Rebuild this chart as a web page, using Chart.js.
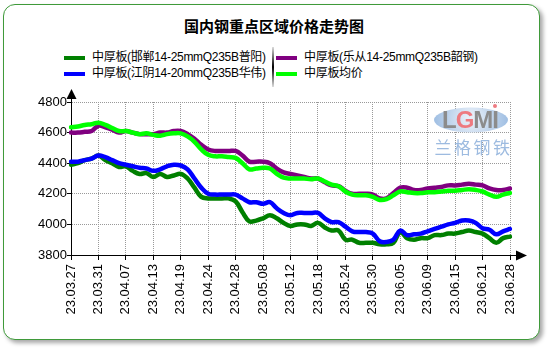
<!DOCTYPE html>
<html lang="zh">
<head>
<meta charset="UTF-8">
<title>国内钢重点区域价格走势图</title>
<script src="https://cdn.jsdelivr.net/npm/chart.js"></script>
<style>
  body { margin: 0; background: #fff; }
  #box { position: relative; width: 550px; height: 350px; font-family: "Liberation Sans", "Noto Sans CJK SC", sans-serif; }
  #frame { position: absolute; left: 3px; top: 4px; width: 535px; height: 334px; border: 1.5px solid #3f9a3a; border-radius: 12px; box-shadow: 3px 3px 4px rgba(0,0,0,0.35); background: #fff; }
  #title { position: absolute; left: 0; top: 15px; width: 548px; text-align: center; font: bold 15px "Noto Sans CJK SC", sans-serif; color: #000; }
  .lg { position: absolute; font-size: 12px; height: 16px; line-height: 16px; white-space: nowrap; letter-spacing: -0.3px; color: #000; }
  .lg i { display: inline-block; width: 21px; height: 4px; vertical-align: middle; margin-right: 7px; }
  #sep { position: absolute; left: 272px; top: 47px; width: 2px; height: 40px; background: linear-gradient(#ddd, #000 50%, #ddd); }
  canvas { position: absolute; left: 0; top: 0; }
</style>
</head>
<body>
<div id="box">
  <div id="frame"></div>
  <div id="title">国内钢重点区域价格走势图</div>
  <div id="legend"></div>
  <div id="sep"></div>
  <canvas id="chart" width="550" height="350"></canvas>
</div>

<script>
// trading days 23.03.27 - 23.06.28
const dates = [
  '23.03.27', '23.03.28', '23.03.29', '23.03.30', '23.03.31',
  '23.04.03', '23.04.04', '23.04.06', '23.04.07',
  '23.04.10', '23.04.11', '23.04.12', '23.04.13',
  '23.04.14', '23.04.17', '23.04.18', '23.04.19',
  '23.04.20', '23.04.21', '23.04.23', '23.04.24',
  '23.04.25', '23.04.26', '23.04.27', '23.04.28',
  '23.05.04', '23.05.05', '23.05.06', '23.05.08',
  '23.05.09', '23.05.10', '23.05.11', '23.05.12',
  '23.05.15', '23.05.16', '23.05.17', '23.05.18',
  '23.05.19', '23.05.22', '23.05.23', '23.05.24',
  '23.05.25', '23.05.26', '23.05.29', '23.05.30',
  '23.05.31', '23.06.01', '23.06.02', '23.06.05',
  '23.06.06', '23.06.07', '23.06.08', '23.06.09',
  '23.06.12', '23.06.13', '23.06.14', '23.06.15',
  '23.06.16', '23.06.19', '23.06.20', '23.06.21',
  '23.06.25', '23.06.26', '23.06.27', '23.06.28'
];

const handan = [
  4390, 4400, 4420, 4430, 4450, 4420, 4400, 4375, 4380, 4350, 4330, 4335, 4310,
  4330, 4310, 4320, 4330, 4300, 4240, 4180, 4170, 4170, 4170, 4170, 4150, 4080,
  4020, 4025, 4040, 4060, 4040, 4010, 3990, 4000, 4000, 3990, 4010, 3980, 3960,
  3960, 3900, 3900, 3880, 3880, 3880, 3870, 3870, 3880, 3950, 3910, 3900, 3910,
  3910, 3930, 3930, 3940, 3940, 3950, 3960, 3950, 3940, 3910, 3880, 3910, 3920
];
const jiangyin = [
  4410, 4410, 4420, 4430, 4450, 4440, 4420, 4400, 4390, 4380, 4370, 4365, 4350,
  4360, 4380, 4390, 4385, 4360, 4300, 4240, 4200, 4195, 4195, 4195, 4195, 4170,
  4145, 4145, 4135, 4145, 4105, 4075, 4060, 4075, 4075, 4075, 4075, 4040, 4015,
  4015, 3985, 3955, 3950, 3950, 3940, 3890, 3885, 3900, 3960, 3930, 3935, 3940,
  3955, 3970, 3985, 4000, 4010, 4025, 4025, 4010, 3975, 3965, 3935, 3955, 3970
];
const lecong = [
  4600, 4600, 4605, 4610, 4645, 4635, 4620, 4600, 4610, 4600, 4590, 4590, 4590,
  4600, 4600, 4610, 4610, 4590, 4560, 4520, 4490, 4480, 4480, 4480, 4480, 4450,
  4410, 4410, 4410, 4400, 4365, 4340, 4330, 4320, 4310, 4300, 4300, 4275, 4255,
  4250, 4220, 4200, 4200, 4200, 4195, 4170, 4170, 4205, 4240, 4240, 4225, 4225,
  4235, 4240, 4245, 4255, 4255, 4260, 4265, 4260, 4255, 4235, 4225, 4225, 4235
];
const average = [
  4635, 4640, 4650, 4655, 4665, 4650, 4630, 4610, 4610, 4600, 4590, 4595, 4585,
  4580, 4590, 4595, 4595, 4575, 4540, 4490, 4455, 4445, 4445, 4440, 4435, 4400,
  4360, 4365, 4370, 4365, 4330, 4305, 4300, 4300, 4300, 4295, 4300, 4280, 4260,
  4250, 4215, 4195, 4190, 4190, 4180, 4160, 4165, 4190, 4215, 4210, 4205, 4205,
  4210, 4210, 4215, 4220, 4220, 4225, 4230, 4225, 4215, 4195, 4180, 4195, 4205
];

const seriesNames = [
  '中厚板(邯郸14-25mmQ235B普阳)',
  '中厚板(江阴14-20mmQ235B华伟)',
  '中厚板(乐从14-25mmQ235B韶钢)',
  '中厚板均价'
];
const seriesColors = ['#008000', '#0000ff', '#800080', '#00ff00'];
const seriesData = [handan, jiangyin, lecong, average];
const drawOrder = [4, 2, 3, 1];

const yTicks = [3800, 4000, 4200, 4400, 4600, 4800];

// legend: two columns, two rows
const legendSpots = [[64, 49], [64, 65], [276, 49], [276, 65]];
const legendBox = document.getElementById('legend');
seriesNames.forEach((name, i) => {
  const d = document.createElement('div');
  d.className = 'lg';
  d.style.left = legendSpots[i][0] + 'px';
  d.style.top = legendSpots[i][1] + 'px';
  d.innerHTML = '<i style="background:' + seriesColors[i] + '"></i>' + name;
  legendBox.appendChild(d);
});

// arrow heads on the two axes
const axisArrows = {
  id: 'axisArrows',
  afterDraw(chart) {
    const { ctx, chartArea: a } = chart;
    const x0 = Math.round(a.left) + 0.5;
    const y0 = Math.round(a.bottom) + 0.5;
    ctx.save();
    ctx.strokeStyle = '#000';
    ctx.fillStyle = '#000';
    ctx.lineWidth = 1;
    ctx.beginPath();
    ctx.moveTo(x0, a.top); ctx.lineTo(x0, a.top - 4);
    ctx.moveTo(a.right, y0); ctx.lineTo(a.right + 8, y0);
    ctx.stroke();
    ctx.beginPath();
    ctx.moveTo(x0, a.top - 13);
    ctx.lineTo(x0 - 5, a.top - 3);
    ctx.lineTo(x0 + 5, a.top - 3);
    ctx.closePath();
    ctx.fill();
    ctx.beginPath();
    ctx.moveTo(a.right + 17, y0);
    ctx.lineTo(a.right + 6, y0 - 5);
    ctx.lineTo(a.right + 6, y0 + 5);
    ctx.closePath();
    ctx.fill();
    ctx.restore();
  }
};

// LGMI watermark in the upper right of the plot
const watermark = {
  id: 'watermark',
  beforeDatasetsDraw(chart) {
    const { ctx } = chart;
    const cx = 471, cy = 120;
    ctx.save();
    const g = ctx.createRadialGradient(cx, cy - 2, 4, cx, cy, 38);
    g.addColorStop(0, '#e6eef8');
    g.addColorStop(1, '#9dbde2');
    ctx.fillStyle = g;
    ctx.beginPath();
    ctx.ellipse(cx, cy, 37, 12.5, 0, 0, Math.PI * 2);
    ctx.fill();

    ctx.font = 'bold 24px "Liberation Sans", sans-serif';
    ctx.textBaseline = 'alphabetic';
    const letters = [['L', '#8c8c8c'], ['G', '#ee7a80'], ['M', '#8c8c8c'], ['I', '#8c8c8c']];
    let x = 442;
    letters.forEach(([ch, col]) => {
      ctx.fillStyle = col;
      ctx.fillText(ch, x, 128);
      x += ctx.measureText(ch).width - 1;
    });
    ctx.fillStyle = '#ee7a80';
    ctx.beginPath();
    ctx.arc(x - 3, 106, 2, 0, Math.PI * 2);
    ctx.fill();

    ctx.fillStyle = '#9dbbe0';
    ctx.font = '17px "Noto Sans CJK SC", sans-serif';
    ctx.textAlign = 'center';
    ctx.textBaseline = 'middle';
    '兰格钢铁'.split('').forEach((ch, i) => ctx.fillText(ch, 443 + i * 19.5, 148));
    ctx.restore();
  }
};

new Chart(document.getElementById('chart'), {
  type: 'line',
  data: {
    labels: dates,
    datasets: seriesNames.map((name, i) => ({
      label: name,
      data: seriesData[i],
      borderColor: seriesColors[i],
      backgroundColor: seriesColors[i],
      borderWidth: 4.5,
      pointRadius: 0,
      tension: 0.4,
      borderCapStyle: 'round',
      borderJoinStyle: 'round',
      order: drawOrder[i]
    }))
  },
  options: {
    responsive: false,
    animation: false,
    layout: { padding: { top: 102, right: 40, left: 0, bottom: 0 } },
    plugins: { legend: { display: false }, tooltip: { enabled: false } },
    scales: {
      x: {
        afterFit(scale) { scale.height = 95; },
        grid: { color: '#999', tickColor: '#000', tickLength: 5 },
        border: { color: '#000', width: 1, dash: [1, 1] },
        ticks: {
          autoSkip: false,
          maxRotation: 90,
          minRotation: 90,
          padding: 4,
          color: '#000',
          font: { family: '"Liberation Sans", sans-serif', size: 13 },
          callback(value, index) {
            return index % 4 === 0 ? dates[index] : null;
          }
        }
      },
      y: {
        min: yTicks[0],
        max: yTicks[yTicks.length - 1],
        afterFit(scale) { scale.width = 71; },
        afterBuildTicks(scale) { scale.ticks = yTicks.map(v => ({ value: v })); },
        grid: { color: '#999', tickColor: '#000', tickLength: 4 },
        border: { color: '#000', width: 1, dash: [1, 1] },
        ticks: {
          padding: 0,
          color: '#000',
          font: { family: '"Liberation Sans", sans-serif', size: 13 },
          callback(value) { return String(value); }
        }
      }
    }
  },
  plugins: [watermark, axisArrows]
});
</script>
</body>
</html>
